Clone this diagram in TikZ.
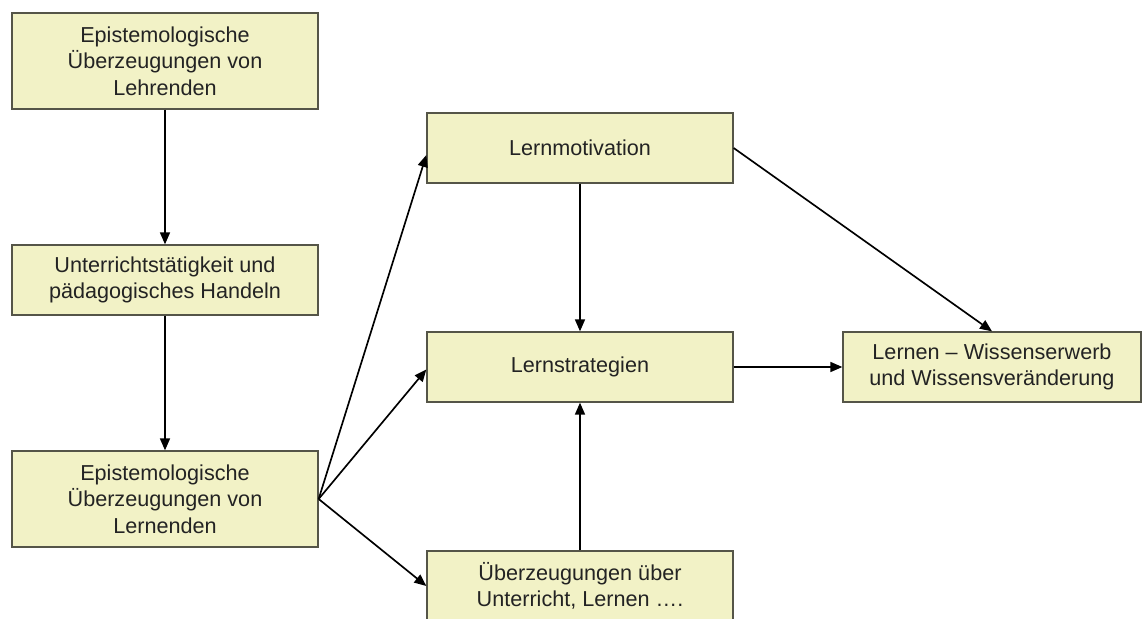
\documentclass[tikz,border=0pt]{standalone}
\usepackage{fontspec}
\setmainfont{Liberation Sans}
\usepackage{tikz}
\usetikzlibrary{arrows.meta, positioning}
\definecolor{boxfill}{RGB}{242,242,198}
\definecolor{boxline}{RGB}{85,85,72}
\definecolor{boxtext}{RGB}{35,35,35}

\begin{document}
\begin{tikzpicture}[
    node distance=4.38cm,
    box/.style={rectangle, draw=boxline, line width=0.75pt, fill=boxfill, minimum width=6.12cm, minimum height=1.4cm, align=center, text=boxtext, font=\fontsize{12.3}{15}\selectfont},
    tall/.style={minimum height=1.92cm},
    arrow/.style={-{Triangle[length=2.4mm, width=2mm]}, line width=0.95pt, black}
]
\clip (0,0) rectangle (22.88,-12.38);
\useasboundingbox (0,0) rectangle (22.88,-12.38);

% left column: teachers -> learners
\node[box, tall] (lehr) at (3.3,-1.22) {Epistemologische\\Überzeugungen von\\Lehrenden};
\node[box, below of=lehr] (unter) {Unterrichtstätigkeit und\\pädagogisches Handeln};
\node[box, tall, below of=unter] (lern) {Epistemologische\\Überzeugungen von\\Lernenden};

% middle column
\node[box] (motiv) at (11.6,-2.96) {Lernmotivation};
\node[box, below of=motiv] (strat) {Lernstrategien};
\node[box, below of=strat] (ueber) {Überzeugungen über\\Unterricht, Lernen ….};

% outcome
\node[box, right of=strat, xshift=3.86cm, minimum width=5.96cm] (wissen) {Lernen – Wissenserwerb\\und Wissensveränderung};

\draw[arrow] (lehr) -- (unter);
\draw[arrow] (unter) -- (lern);
\draw[arrow] (lern.east) -- ([yshift=-0.14cm]motiv.west);
\draw[arrow] (lern.east) -- ([yshift=-0.05cm]strat.west);
\draw[arrow] (lern.east) -- (ueber.west);
\draw[arrow] (motiv) -- (strat);
\draw[arrow] (ueber) -- (strat);
\draw[arrow] (strat) -- (wissen);
\draw[arrow] (motiv.east) -- (wissen.north);
\end{tikzpicture}
\end{document}
